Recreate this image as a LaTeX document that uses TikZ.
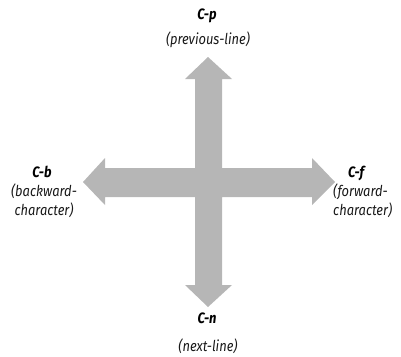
\documentclass[tikz,border=0pt]{standalone}
\usepackage{fontspec}
\newfontfamily\lbl[FakeStretch=0.86]{Fira Sans}
\definecolor{arrowgray}{RGB}{182,182,182}
\tikzset{
  keylbl/.style={font=\lbl\fontsize{15}{17}\selectfont\bfseries\itshape, text=black, inner sep=0pt},
  cmdlbl/.style={font=\lbl\fontsize{15}{19}\selectfont\itshape, text=black!90, inner sep=0pt, align=center},
}
\begin{document}
\begin{tikzpicture}[x=1pt,y=-1pt]
\useasboundingbox (0,0) rectangle (401,356);
\clip (0,0) rectangle (401,356);
% cross of double arrows
\fill[arrowgray]
  (208,57) -- (232,79) -- (222,79) -- (222,168) -- (312,168) -- (312,158) -- (335,182)
  -- (312,205) -- (312,197) -- (222,197) -- (222,285) -- (232,285) -- (208,307)
  -- (185,285) -- (195,285) -- (195,197) -- (105,197) -- (105,205) -- (83,182)
  -- (105,158) -- (105,168) -- (195,168) -- (195,79) -- (185,79) -- cycle;
% labels
\node[keylbl] (kp) at (207,16) {C-p};
\node[cmdlbl] (cp) at (208,40) {(previous-line)};
\node[keylbl] (kb) at (42,172) {C-b};
\node[cmdlbl] (cb) at (44,201) {(backward-\\character)};
\node[keylbl] (kf) at (356,173) {C-f};
\node[cmdlbl, align=left, anchor=west] (cf) at (333,201) {(forward-\\character)};
\node[keylbl] (kn) at (207,318) {C-n};
\node[cmdlbl] (cn) at (208,346) {(next-line)};
\end{tikzpicture}
\end{document}
